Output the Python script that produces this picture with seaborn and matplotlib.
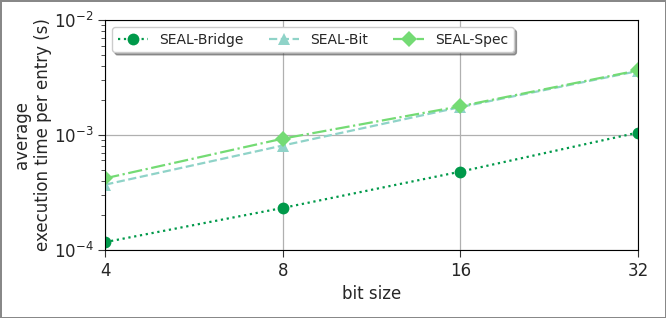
import numpy as np
import pandas as pd
import matplotlib
matplotlib.use("Agg")
import matplotlib.pyplot as plt
import seaborn as sns

# data
bit_sizes = [4, 8, 16, 32]
seal_bridge = [1.17e-4, 2.32e-4, 4.8e-4, 1.05e-3]
seal_bit = [3.7e-4, 8.1e-4, 1.75e-3, 3.6e-3]
seal_spec = [4.2e-4, 9.3e-4, 1.78e-3, 3.65e-3]

sns.set_style("ticks")
plt.rcParams["font.family"] = ["DejaVu Sans"]

fig = plt.figure(figsize=(6.66, 3.18), dpi=100)
fig.patch.set_edgecolor("#888888")
fig.patch.set_linewidth(2)
ax = fig.add_axes([0.158, 0.214, 0.8, 0.723])

series = [
    ("SEAL-Bridge", seal_bridge, "#00994a", ":", "o"),
    ("SEAL-Bit", seal_bit, "#8fd3c8", "--", "^"),
    ("SEAL-Spec", seal_spec, "#74db74", "-.", "D"),
]
for name, vals, col, ls, mk in series:
    df = pd.DataFrame({"bits": bit_sizes, "time": vals})
    sns.lineplot(data=df, x="bits", y="time", ax=ax, color=col, linestyle=ls,
                 marker=mk, markersize=8.5, markeredgewidth=0, linewidth=1.6,
                 label=name)

ax.set_xscale("log", base=2)
ax.set_yscale("log")
ax.set_xlim(4, 32)
ax.set_ylim(1e-4, 1e-2)
ax.set_xticks(bit_sizes)
ax.set_xticklabels([str(b) for b in bit_sizes])
ax.xaxis.set_minor_locator(matplotlib.ticker.NullLocator())
ax.tick_params(axis="both", which="major", labelsize=12, length=5, color="#333333")
ax.tick_params(axis="y", which="minor", length=3, color="#333333")
ax.grid(True, which="major", color="#b0b0b0", linewidth=0.9)
ax.set_xlabel("bit size", fontsize=12)
ax.set_ylabel("average\nexecution time per entry (s)", fontsize=12, labelpad=1)
for s in ax.spines.values():
    s.set_color("black")

ax.legend(loc="upper left", ncol=3, fontsize=10, frameon=True, fancybox=True,
          shadow=True, handlelength=2.2, columnspacing=1.8)

fig.savefig("out.png", dpi=100, edgecolor=fig.get_edgecolor())
